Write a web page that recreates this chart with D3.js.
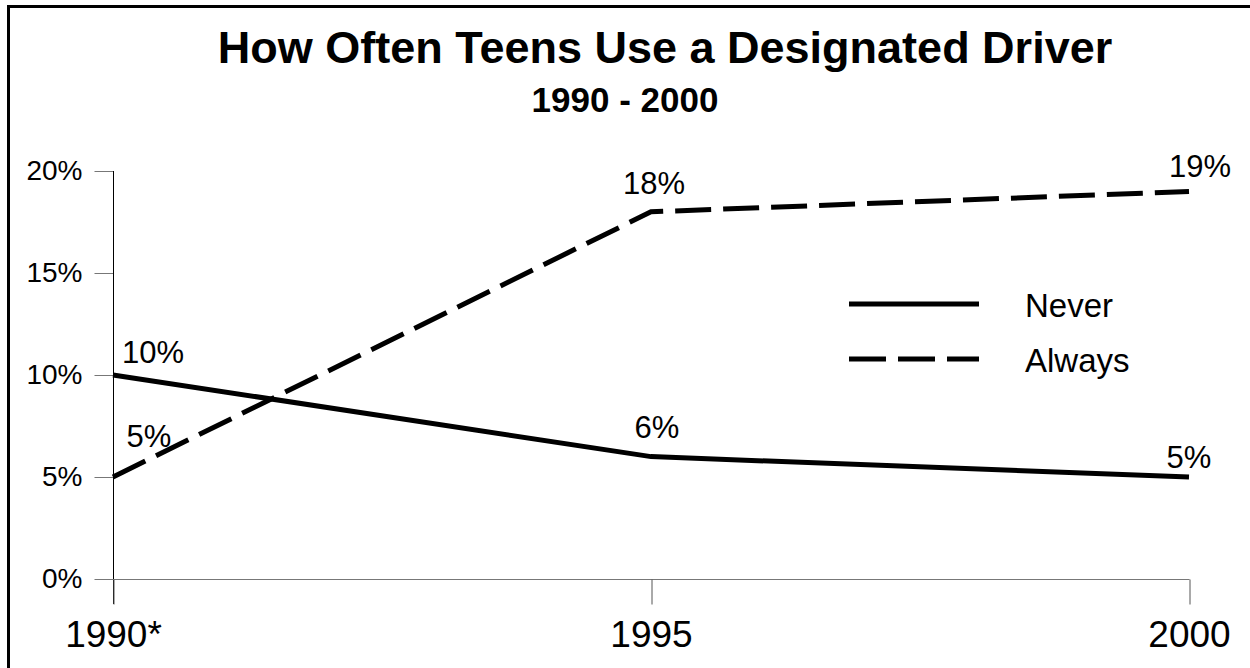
<!DOCTYPE html>
<html>
<head>
<meta charset="utf-8">
<script src="https://cdn.jsdelivr.net/npm/d3@7"></script>
<style>
  html, body { margin: 0; padding: 0; background: #fff; }
  svg { display: block; }
  text { font-family: "Liberation Sans", Arial, Helvetica, sans-serif; fill: #000; }
</style>
</head>
<body>
<svg id="chart" width="1250" height="668"></svg>
<script>
const categories = ["1990*", "1995", "2000"];
const neverValues = [10, 6, 5];
const alwaysValues = [5, 18, 19];
const yTicks = [0, 5, 10, 15, 20];
const seriesNames = ["Never", "Always"];
const titleText = "How Often Teens Use a Designated Driver";
const subtitleText = "1990 - 2000";

const svg = d3.select("#chart");
const W = 1250, H = 668;
svg.append("rect").attr("width", W).attr("height", H).attr("fill", "#fff");

// frame (top + left)
svg.append("line").attr("x1", 7).attr("x2", W).attr("y1", 6.5).attr("y2", 6.5).attr("stroke", "#000").attr("stroke-width", 3);
svg.append("line").attr("x1", 8.5).attr("x2", 8.5).attr("y1", 5).attr("y2", H).attr("stroke", "#000").attr("stroke-width", 3);

const x = d3.scalePoint().domain(categories).range([113, 1189]).padding(0);
const y = d3.scaleLinear().domain([0, 20]).range([579, 171]);

// title
svg.append("text").attr("x", 665).attr("y", 63).attr("text-anchor", "middle")
  .attr("font-size", 45).attr("font-weight", "bold").text(titleText);
svg.append("text").attr("x", 625).attr("y", 112).attr("text-anchor", "middle")
  .attr("font-size", 35).attr("font-weight", "bold").text(subtitleText);

// Y axis
const yAxis = d3.axisLeft(y).tickValues(yTicks).tickSize(19).tickPadding(12)
  .tickFormat(d => d + "%");
const gy = svg.append("g").attr("transform", "translate(113.5,0)").call(yAxis);
gy.select(".domain").remove();
gy.selectAll(".tick line").attr("stroke", "#777").attr("stroke-width", 1);
gy.selectAll(".tick text").attr("font-size", 28).attr("fill", "#000")
  .style("font-family", "'Liberation Sans', Arial, sans-serif");
svg.append("line").attr("x1", 113.5).attr("x2", 113.5).attr("y1", y(20)).attr("y2", 604)
  .attr("stroke", "#000").attr("stroke-width", 1);

// X axis
const xAxis = d3.axisBottom(x).tickSize(25).tickPadding(16);
const gx = svg.append("g").attr("transform", "translate(0," + (y(0) + 0.5) + ")").call(xAxis);
gx.select(".domain").attr("stroke", "#777").attr("d", "M113,0H1189.5");
gx.selectAll(".tick line").attr("stroke", "#555").attr("stroke-width", 1)
  .attr("transform", "translate(0.5,0)");
gx.selectAll(".tick text").attr("font-size", 37).attr("fill", "#000")
  .style("font-family", "'Liberation Sans', Arial, sans-serif");

// lines
const line = d3.line().x((d, i) => x(categories[i])).y(d => y(d));
svg.append("path").datum(neverValues).attr("d", line)
  .attr("fill", "none").attr("stroke", "#000").attr("stroke-width", 5).attr("stroke-linejoin", "miter");
svg.append("path").datum(alwaysValues).attr("d", line)
  .attr("fill", "none").attr("stroke", "#000").attr("stroke-width", 5)
  .attr("stroke-dasharray", "36,12").attr("stroke-linejoin", "miter");

// data labels
const neverLabelOffsets = [[40, -12], [6, -19], [0, -9]];
const alwaysLabelOffsets = [[36, -30], [3, -18], [11, -14]];
neverValues.forEach((v, i) => {
  svg.append("text").attr("x", x(categories[i]) + neverLabelOffsets[i][0])
    .attr("y", y(v) + neverLabelOffsets[i][1]).attr("text-anchor", "middle")
    .attr("font-size", 31).text(v + "%");
});
alwaysValues.forEach((v, i) => {
  svg.append("text").attr("x", x(categories[i]) + alwaysLabelOffsets[i][0])
    .attr("y", y(v) + alwaysLabelOffsets[i][1]).attr("text-anchor", "middle")
    .attr("font-size", 31).text(v + "%");
});

// legend
const legend = svg.append("g");
seriesNames.forEach((name, i) => {
  const ly = 304 + i * 55;
  legend.append("line").attr("x1", 849).attr("x2", 979).attr("y1", ly).attr("y2", ly)
    .attr("stroke", "#000").attr("stroke-width", 5)
    .attr("stroke-dasharray", i === 1 ? "37,12" : null);
  legend.append("text").attr("x", 1025).attr("y", ly + 13).attr("font-size", 33).text(name);
});
</script>
</body>
</html>
